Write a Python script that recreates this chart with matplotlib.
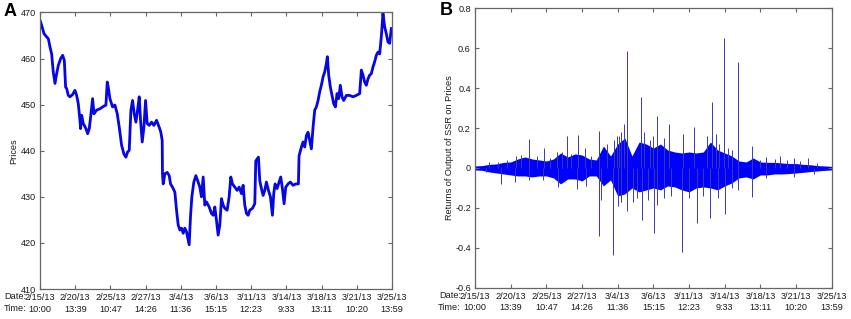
import numpy as np
import matplotlib
matplotlib.use("Agg")
import matplotlib.pyplot as plt
from matplotlib.ticker import FuncFormatter

plt.rcParams['font.family'] = ['Liberation Sans', 'DejaVu Sans']

# x positions are in tick units (0 = 2/15/13 10:00, 10 = 3/25/13 13:59)
date_labels = ["2/15/13", "2/20/13", "2/25/13", "2/27/13", "3/4/13", "3/6/13",
               "3/11/13", "3/14/13", "3/18/13", "3/21/13", "3/25/13"]
time_labels = ["10:00", "13:39", "10:47", "14:26", "11:36", "15:15",
               "12:23", "9:33", "13:11", "10:20", "13:59"]

# panel A: prices
price_t = [0.0, 0.047, 0.114, 0.189, 0.237, 0.284, 0.331, 0.378, 0.426, 0.473,
           0.52, 0.587, 0.643, 0.691, 0.728, 0.757, 0.804, 0.851, 0.927, 0.993,
           1.041, 1.088, 1.135, 1.154, 1.183, 1.23, 1.306, 1.353, 1.4, 1.438,
           1.495, 1.533, 1.608, 1.703, 1.798, 1.873, 1.911, 1.939, 1.987, 2.062,
           2.129, 2.195, 2.252, 2.318, 2.384, 2.441, 2.488, 2.535, 2.583, 2.63,
           2.677, 2.725, 2.772, 2.819, 2.857, 2.904, 2.952, 2.999, 3.046, 3.103,
           3.169, 3.236, 3.311, 3.387, 3.434, 3.472, 3.48, 3.5, 3.548, 3.614,
           3.671, 3.709, 3.765, 3.832, 3.879, 3.926, 3.974, 4.021, 4.068, 4.115,
           4.163, 4.21, 4.238, 4.276, 4.314, 4.371, 4.428, 4.494, 4.541, 4.588,
           4.636, 4.683, 4.73, 4.806, 4.872, 4.92, 4.967, 5.014, 5.061, 5.109,
           5.156, 5.203, 5.251, 5.317, 5.374, 5.421, 5.468, 5.535, 5.601, 5.658,
           5.724, 5.771, 5.818, 5.866, 5.913, 5.96, 6.036, 6.102, 6.131, 6.168,
           6.206, 6.244, 6.291, 6.339, 6.386, 6.433, 6.49, 6.547, 6.604, 6.641,
           6.679, 6.736, 6.793, 6.84, 6.887, 6.935, 6.982, 7.048, 7.114, 7.19,
           7.266, 7.342, 7.36, 7.427, 7.474, 7.521, 7.569, 7.616, 7.663, 7.71,
           7.758, 7.805, 7.852, 7.9, 7.947, 7.994, 8.042, 8.089, 8.136, 8.165,
           8.202, 8.25, 8.297, 8.344, 8.392, 8.439, 8.486, 8.533, 8.581, 8.628,
           8.704, 8.798, 8.893, 8.988, 9.082, 9.13, 9.177, 9.224, 9.272, 9.319,
           9.366, 9.413, 9.461, 9.508, 9.555, 9.603, 9.65, 9.697, 9.744, 9.792,
           9.839, 9.886, 9.934, 9.981]
price_v = [468.3, 467.2, 465.4, 464.7, 464.3, 462.5, 461.0, 457.0, 454.6, 456.7,
           458.5, 460.0, 460.7, 459.6, 453.8, 453.5, 452.0, 451.7, 452.2, 453.1,
           452.0, 450.2, 446.6, 444.8, 447.7, 445.9, 444.8, 443.7, 444.8, 447.3,
           451.3, 448.0, 448.8, 449.1, 449.6, 449.9, 454.9, 453.8, 451.3, 449.5,
           449.9, 448.0, 445.1, 441.2, 439.3, 438.6, 439.7, 440.1, 448.8, 450.9,
           448.0, 446.2, 448.8, 451.7, 446.6, 441.9, 445.1, 450.9, 445.9, 445.5,
           446.2, 445.5, 446.6, 445.1, 444.0, 442.2, 435.0, 432.8, 435.0, 435.3,
           434.6, 432.8, 432.1, 431.0, 427.1, 423.9, 422.8, 423.2, 422.1, 423.2,
           422.4, 420.6, 419.6, 425.7, 430.0, 433.2, 434.6, 433.2, 432.1, 430.0,
           434.3, 428.2, 428.9, 427.8, 426.4, 426.0, 427.8, 424.9, 421.7, 423.9,
           429.6, 428.2, 427.5, 427.1, 430.0, 434.3, 432.8, 432.1, 431.4, 432.1,
           430.7, 432.5, 428.2, 426.4, 426.0, 427.1, 427.5, 428.5, 437.8, 438.2,
           438.6, 433.5, 431.8, 430.3, 431.4, 433.2, 431.4, 430.0, 426.0, 430.7,
           432.8, 431.8, 433.2, 434.3, 431.8, 428.5, 432.1, 432.8, 433.2, 432.5,
           432.8, 432.8, 438.9, 440.8, 441.9, 440.8, 443.3, 444.0, 442.2, 440.4,
           445.1, 448.8, 449.5, 450.9, 452.8, 454.2, 456.0, 457.1, 458.9, 460.4,
           456.4, 453.8, 452.0, 450.2, 449.5, 452.4, 451.3, 454.2, 451.7, 450.9,
           452.0, 452.0, 451.7, 452.0, 452.4, 457.5, 456.4, 454.9, 454.2, 455.6,
           456.4, 456.7, 458.2, 459.3, 460.7, 461.4, 461.0, 464.7, 469.8, 466.9,
           465.4, 463.6, 463.3, 466.5]

# panel B: envelope of the dense return band, sampled every 0.2 tick
env_t = np.arange(0, 10.01, 0.2)
env_hi = [0.010, 0.012, 0.018, 0.020, 0.028, 0.030, 0.045, 0.055, 0.045, 0.040,
          0.035, 0.045, 0.075, 0.055, 0.070, 0.065, 0.045, 0.040, 0.110, 0.060,
          0.120, 0.150, 0.060, 0.130, 0.120, 0.100, 0.120, 0.090, 0.080, 0.075,
          0.080, 0.075, 0.080, 0.130, 0.090, 0.075, 0.060, 0.035, 0.030, 0.050,
          0.030, 0.028, 0.028, 0.025, 0.022, 0.022, 0.018, 0.016, 0.012, 0.010,
          0.008]
env_lo = [-0.010, -0.012, -0.020, -0.025, -0.030, -0.035, -0.040, -0.040, -0.045, -0.040,
          -0.040, -0.050, -0.080, -0.055, -0.055, -0.065, -0.040, -0.040, -0.090, -0.060,
          -0.140, -0.130, -0.100, -0.120, -0.110, -0.100, -0.110, -0.090, -0.095, -0.110,
          -0.120, -0.100, -0.095, -0.100, -0.110, -0.090, -0.075, -0.050, -0.045, -0.055,
          -0.035, -0.035, -0.030, -0.030, -0.028, -0.025, -0.022, -0.018, -0.015, -0.012,
          -0.010]

# individual return spikes
up_t = [0.4, 0.65, 0.9, 1.14, 1.3, 1.51, 1.75, 1.92, 2.1, 2.31, 2.45, 2.57, 2.7,
        2.9, 3.09, 3.25, 3.48, 3.7, 3.9, 3.98, 4.05, 4.1, 4.18, 4.26, 4.65, 4.75,
        4.9, 5.0, 5.11, 5.3, 5.44, 5.82, 6.13, 6.5, 6.64, 6.75, 6.85, 6.98, 7.1,
        7.2, 7.36, 7.76, 8.0, 8.17, 8.4, 8.54, 8.75, 8.94, 9.1, 9.33, 9.6]
up_v = [0.03, 0.03, 0.04, 0.06, 0.065, 0.145, 0.06, 0.10, 0.05, 0.08, 0.08, 0.158, 0.07,
        0.163, 0.10, 0.06, 0.187, 0.12, 0.14, 0.162, 0.16, 0.18, 0.22, 0.588, 0.357, 0.18,
        0.14, 0.16, 0.262, 0.15, 0.22, 0.17, 0.207, 0.16, 0.329, 0.17, 0.12, 0.652, 0.10,
        0.09, 0.533, 0.11, 0.04, 0.053, 0.045, 0.06, 0.04, 0.05, 0.035, 0.05, 0.025]
dn_t = [0.3, 0.74, 1.12, 1.5, 1.9, 2.34, 2.86, 3.1, 3.47, 3.52, 3.88, 4.02, 4.1,
        4.25, 4.44, 4.55, 4.69, 4.85, 5.03, 5.11, 5.3, 5.5, 5.81, 6.0, 6.21, 6.4,
        6.59, 6.8, 7.01, 7.2, 7.38, 7.77, 8.17, 8.94, 9.5]
dn_v = [-0.02, -0.08, -0.07, -0.06, -0.06, -0.096, -0.105, -0.09, -0.342, -0.163,
        -0.437, -0.19, -0.17, -0.216, -0.17, -0.15, -0.262, -0.16, -0.326, -0.188,
        -0.15, -0.14, -0.42, -0.15, -0.276, -0.14, -0.25, -0.15, -0.233, -0.1,
        -0.11, -0.146, -0.05, -0.045, -0.03]

blue = '#0000ff'
frame = '#666666'
txt = '#1a1a1a'
fs = 6.6

fig = plt.figure(figsize=(8.51, 3.19), dpi=100)
axA = fig.add_axes([0.047, 0.094, 0.4136, 0.867])
axB = fig.add_axes([0.5582, 0.0981, 0.4191, 0.8759])


def style(ax):
    ax.set_xlim(0, 10)
    ax.set_xticks(range(11))
    ax.set_xticklabels([f"{d}\n{t}" for d, t in zip(date_labels, time_labels)],
                       linespacing=1.35)
    ax.tick_params(direction='in', length=3, width=0.8, top=True, right=True,
                   labelsize=fs, colors=frame, labelcolor=txt, pad=3)
    for s in ax.spines.values():
        s.set_color(frame)
        s.set_linewidth(0.9)
    ax.text(-0.04, -0.0125, "Date:\nTime:", transform=ax.transAxes, ha='right', va='top',
            fontsize=fs, color=txt, linespacing=1.35)


# panel A
axA.plot(price_t, price_v, color=blue, lw=2.0)
axA.plot(price_t, price_v, color='#1a1a8c', lw=0.4)
axA.set_ylim(410, 470)
axA.set_yticks(range(410, 471, 10))
axA.set_ylabel("Prices", fontsize=fs, color=txt, labelpad=2)
style(axA)
fig.text(0.004, 0.965, "A", fontsize=13, fontweight='bold', va='center', ha='left')

# panel B
axB.fill_between(env_t, env_lo, env_hi, color=blue, lw=0)
axB.vlines(up_t, 0, up_v, color='#3a3ab0', lw=0.7)
axB.vlines(dn_t, 0, dn_v, color='#3a3ab0', lw=0.7)
axB.set_ylim(-0.6, 0.8)
axB.set_yticks(np.arange(-0.6, 0.81, 0.2))
axB.yaxis.set_major_formatter(FuncFormatter(lambda v, p: "0" if abs(v) < 1e-9 else f"{v:.1f}"))
axB.set_ylabel("Returns of Output of SSR on Prices", fontsize=fs, color=txt, labelpad=1)
style(axB)
fig.text(0.517, 0.968, "B", fontsize=13, fontweight='bold', va='center', ha='left')

fig.savefig("out.png", dpi=100)
